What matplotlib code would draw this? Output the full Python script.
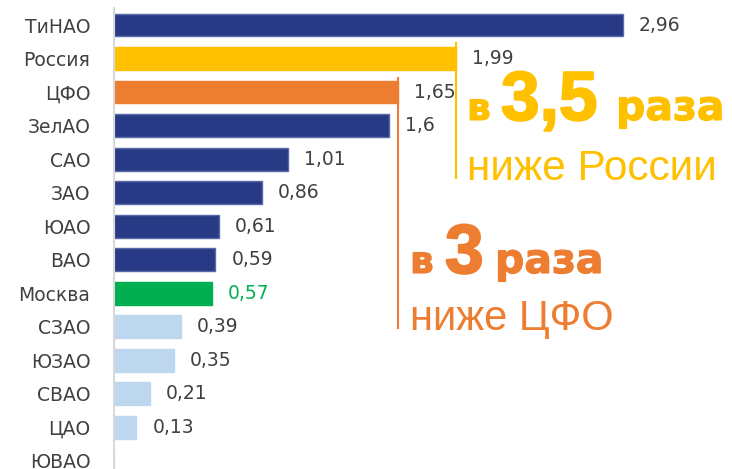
import matplotlib.pyplot as plt
import matplotlib.patheffects as pe
import numpy as np

# data
categories = ["ТиНАО", "Россия", "ЦФО", "ЗелАО", "САО", "ЗАО", "ЮАО", "ВАО",
              "Москва", "СЗАО", "ЮЗАО", "СВАО", "ЦАО", "ЮВАО"]
values = [2.96, 1.99, 1.65, 1.6, 1.01, 0.86, 0.61, 0.59, 0.57, 0.39, 0.35, 0.21, 0.13, 0.0]
value_labels = ["2,96", "1,99", "1,65", "1,6", "1,01", "0,86", "0,61", "0,59",
                "0,57", "0,39", "0,35", "0,21", "0,13", ""]

DARK = "#283A85"
YELLOW = "#FFC000"
ORANGE = "#ED7D31"
GREEN = "#00B050"
LIGHT = "#BDD7EE"
TXT = "#404040"

colors = [DARK, YELLOW, ORANGE, DARK, DARK, DARK, DARK, DARK,
          GREEN, LIGHT, LIGHT, LIGHT, LIGHT, LIGHT]
edges = ["#5A6AA8" if c == DARK else c for c in colors]

W, H = 732, 469
fig = plt.figure(figsize=(W / 100, H / 100), dpi=100)
ax = fig.add_axes([114 / W, 0, 1 - 114 / W, 1 - 8 / H])

y = np.arange(len(categories))
ax.barh(y, values, height=0.68, color=colors, edgecolor=edges, linewidth=1, zorder=2)

for i, (v, lab) in enumerate(zip(values, value_labels)):
    if not lab:
        continue
    ax.annotate(lab, (v, i), xytext=(16, 0), textcoords="offset pixels",
                va="center", ha="left", fontsize=13.5,
                color=GREEN if categories[i] == "Москва" else TXT)

ax.set_xlim(0, 3.593)
ax.set_ylim(13.24, -0.507)
ax.set_yticks(y)
ax.set_yticklabels(categories, fontsize=13.5, color=TXT)
ax.tick_params(axis="y", length=0, pad=17)
ax.set_xticks([])
for s in ["top", "right", "bottom"]:
    ax.spines[s].set_visible(False)
ax.spines["left"].set_color("#D9D9D9")
ax.spines["left"].set_linewidth(1.5)

# reference lines from the Россия and ЦФО bars
ax.plot([values[1], values[1]], [0.537, 4.56], color=YELLOW, lw=1.5, zorder=3)
ax.plot([values[2], values[2]], [1.58, 9.03], color=ORANGE, lw=1.5, zorder=3)


def put(txt, x, yb, size, color, stroke=0, bold=False, family="DejaVu Sans"):
    t = fig.text(x / W, 1 - yb / H, txt, fontsize=size, color=color,
                 fontweight="bold" if bold else "normal", family=family,
                 ha="left", va="baseline")
    if stroke:
        # heavier strokes, closer to the Arial Black look
        t.set_path_effects([pe.withStroke(linewidth=stroke, foreground=color)])


# yellow note
put("в", 467, 120, 27, YELLOW, 0.8, True)
put("3,5", 501, 120, 50, YELLOW, 1.5, True, "Liberation Sans")
put("раза", 616, 120, 29.5, YELLOW, 0.8, True)
put("ниже России", 467, 180, 30.5, YELLOW, 0, False, "Liberation Sans")

# orange note
put("в", 410, 273, 27, ORANGE, 0.8, True)
put("3", 445, 273, 50, ORANGE, 1.5, True, "Liberation Sans")
put("раза", 495, 273, 29.5, ORANGE, 0.8, True)
put("ниже ЦФО", 410, 330, 30, ORANGE, 0, False, "Liberation Sans")

fig.savefig("out.png", dpi=100)
